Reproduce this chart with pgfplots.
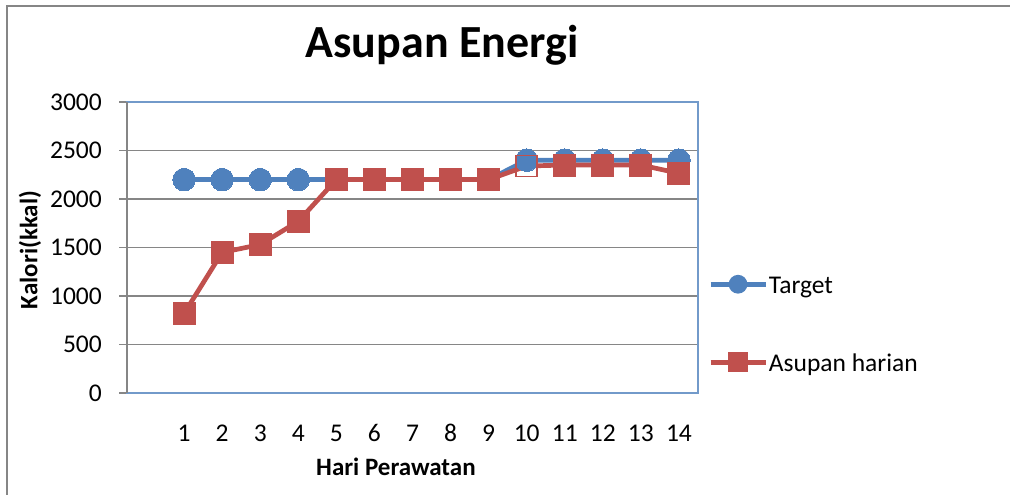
\documentclass[border=0pt]{standalone}
\usepackage{pgfplots}
\pgfplotsset{compat=1.18}
\usepackage{fontspec}
\setmainfont{Carlito}
\definecolor{tblue}{HTML}{4F81BD}
\definecolor{tred}{HTML}{C0504D}
\definecolor{gridgray}{HTML}{868686}
\begin{document}
\begin{tikzpicture}[x=1pt,y=1pt]
\useasboundingbox (0,0) rectangle (1010,495);
\draw[gridgray, line width=2pt] (7,0) -- (7,489) -- (1010,489);
\begin{axis}[
  at={(127pt,102pt)}, anchor=south west,
  width=571pt, height=291pt, scale only axis,
  xmin=-0.5, xmax=14.5, ymin=0, ymax=3000,
  xtick={1,...,14}, ytick={0,500,...,3000},
  xtick pos=left, ytick pos=left,
  clip=false,
  axis line style={draw=none},
  ymajorgrids, grid style={gridgray, line width=1.5pt},
  tick align=outside, major tick length=8pt,
  xtick style={draw=none}, ytick style={gridgray, line width=1.5pt},
  /pgf/number format/assume math mode=true,
  /pgf/number format/1000 sep={},
  tick label style={font=\fontsize{25.5}{30}\selectfont, inner sep=0pt},
  xticklabel style={anchor=base, yshift=-41pt},
  yticklabel style={anchor=base east, xshift=-17pt, yshift=-8.5pt},
  title={Asupan Energi},
  title style={font=\fontsize{46}{52}\selectfont\bfseries, at={(axis description cs:0.5517,1.134)}, anchor=base, inner sep=0pt},
  xlabel={Hari Perawatan},
  xlabel style={font=\fontsize{25}{30}\selectfont\bfseries, at={(axis description cs:0.471,-0.2818)}, anchor=base, inner sep=0pt},
  ylabel={Kalori(kkal)},
  ylabel style={font=\fontsize{25}{30}\selectfont\bfseries, at={(axis description cs:-0.170,0.491)}, anchor=center, inner sep=0pt},
  legend cell align=left,
  legend style={draw=none, fill=none, at={(axis description cs:1.0175,0.426)}, anchor=north west,
    inner sep=0pt, row sep=48pt, column sep=1pt, font=\fontsize{25.5}{30}\selectfont,
    nodes={inner sep=0pt, text height=24pt, text depth=6pt}},
]
\draw[tblue!80, line width=1.5pt] (rel axis cs:0,0) rectangle (rel axis cs:1,1);
\draw[gridgray, line width=2pt] (rel axis cs:0,0) -- (rel axis cs:0,1);

\addplot[tblue, line width=4.7pt, mark=*, mark size=11.3pt, mark options={solid, fill=tblue, draw=tblue, line width=0pt},
  legend image code/.code={\draw[tblue, line width=4.7pt] (0pt,0pt)--(55pt,0pt); \fill[tblue] (27.5pt,0pt) circle (7pt);}]
coordinates {(1,2200)(2,2200)(3,2200)(4,2200)(5,2200)(6,2200)(7,2200)(8,2200)(9,2200)(10,2400)(11,2400)(12,2400)(13,2400)(14,2400)};
\addlegendentry{Target}

\addplot[tred, line width=4.7pt, mark=square*, mark size=11pt, mark indices={1,2,3,4,5,6,7,8,9,11,12,13,14},
  mark options={solid, fill=tred, draw=tred, line width=0pt},
  legend image code/.code={\draw[tred, line width=4.7pt] (0pt,0pt)--(55pt,0pt); \fill[tred] (20pt,-7.5pt) rectangle (35pt,7.5pt);}]
coordinates {(1,820)(2,1450)(3,1530)(4,1770)(5,2200)(6,2200)(7,2200)(8,2200)(9,2200)(10,2340)(11,2350)(12,2350)(13,2350)(14,2265)};
\addlegendentry{Asupan harian}

\addplot[forget plot, only marks, mark=square, mark size=10.5pt, mark options={draw=tred, line width=1.5pt, fill=none}]
coordinates {(10,2340)};
\end{axis}
\end{tikzpicture}
\end{document}
